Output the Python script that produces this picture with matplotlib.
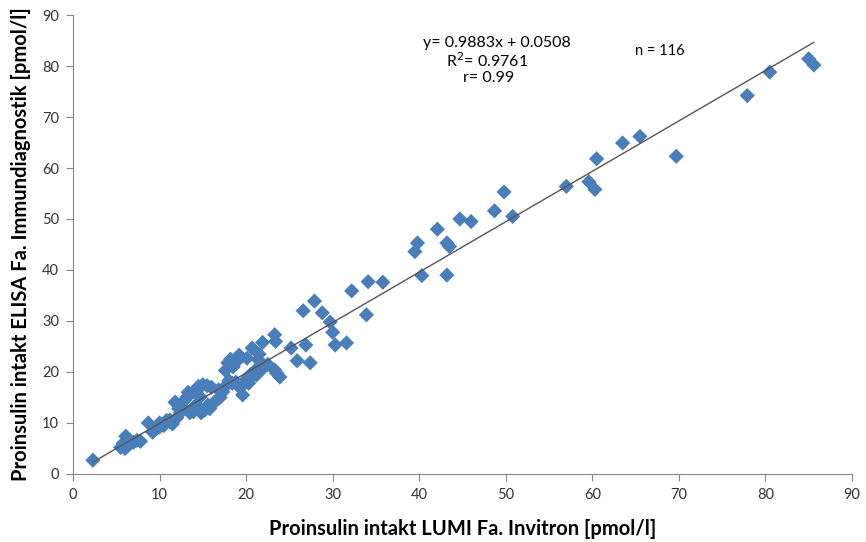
import numpy as np
import matplotlib.pyplot as plt

# LUMI (x) vs ELISA (y), pmol/l
lumi = [85.0, 85.6, 80.5, 77.9, 69.7, 65.5, 63.5, 60.5, 59.6, 60.3,
        57.0, 49.8, 48.7, 50.8, 44.7, 46.0, 42.1, 39.8, 39.5, 43.2,
        43.5, 40.3, 43.2, 35.8, 34.1, 32.2, 27.9, 26.6, 28.8, 33.9,
        29.7, 30.0, 30.3, 31.6, 26.9, 25.2, 25.9, 27.4, 23.3, 23.4,
        21.9, 20.7, 23.3, 23.9, 23.5, 19.2, 20.1, 21.4, 17.9, 18.5,
        20.4, 21.2, 19.3, 19.6, 18.4, 17.3, 16.6, 15.0, 13.9, 14.7,
        13.2, 11.8, 12.7, 14.3, 15.6, 15.2, 13.9, 12.4, 11.2, 10.0,
        2.3, 8.7, 9.2, 10.0, 11.2, 11.9, 13.5, 5.5, 5.8, 6.1,
        6.3, 6.6, 7.0, 7.4, 7.8, 6.0, 16.0, 16.8, 17.5, 18.0,
        18.8, 19.8, 20.5, 21.0, 22.0, 20.3, 17.0, 16.3, 15.8, 14.8,
        14.0, 12.9, 13.3, 14.5, 15.5, 12.2, 11.5, 10.5, 9.6, 10.8,
        22.5, 19.0, 18.2, 21.5, 17.6, 12.0]
elisa = [81.4, 80.2, 78.8, 74.2, 62.3, 66.2, 64.9, 61.8, 57.3, 55.8,
         56.4, 55.3, 51.6, 50.5, 50.0, 49.5, 48.0, 45.3, 43.6, 45.3,
         44.6, 38.9, 39.0, 37.6, 37.7, 35.9, 33.9, 32.0, 31.6, 31.2,
         29.8, 27.8, 25.3, 25.7, 25.3, 24.7, 22.2, 21.8, 27.3, 26.0,
         25.8, 24.7, 20.4, 19.0, 19.8, 23.3, 22.7, 22.4, 21.8, 21.0,
         18.8, 19.4, 16.9, 15.5, 17.8, 16.1, 14.5, 17.5, 16.1, 15.1,
         15.1, 14.1, 13.1, 13.5, 13.5, 12.5, 12.2, 12.0, 10.6, 10.0,
         2.7, 10.0, 8.2, 9.2, 10.2, 13.9, 12.0, 5.2, 6.0, 7.4,
         5.5, 6.5, 6.2, 6.6, 6.4, 5.0, 17.0, 16.5, 17.0, 18.3,
         18.0, 18.2, 19.5, 20.2, 20.8, 17.8, 15.0, 14.0, 12.8, 12.0,
         13.2, 14.5, 16.0, 17.2, 17.3, 12.8, 9.8, 9.5, 8.8, 10.5,
         21.5, 22.2, 22.5, 23.5, 20.3, 11.0]

slope = 0.9883
icpt = 0.0508
eq_lines = ['y= 0.9883x + 0.0508', 'R$^2$= 0.9761', 'r= 0.99']
n_text = 'n = 116'

plt.rcParams['font.family'] = ['Lato', 'DejaVu Sans']

fig = plt.figure(figsize=(8.66, 5.42), dpi=100)
ax = fig.add_axes([0.0843, 0.1255, 0.8995, 0.8468])

ax.scatter(lumi, elisa, marker='D', s=60, color='#4a7ebb', edgecolors='none', zorder=2)

xl = np.array([min(lumi), max(lumi)])
ax.plot(xl, slope * xl + icpt, color='#555555', lw=1.0, zorder=3)

ax.set_xlim(0, 90)
ax.set_ylim(0, 90)
ax.set_xticks(range(0, 91, 10))
ax.set_yticks(range(0, 91, 10))
for s in ['top', 'right']:
    ax.spines[s].set_visible(False)
for s in ['left', 'bottom']:
    ax.spines[s].set_color('#868686')
ax.tick_params(direction='out', length=5, color='#868686', labelsize=10.5, labelcolor='#333333', pad=5)

ax.set_xlabel('Proinsulin intakt LUMI Fa. Invitron [pmol/l]', fontsize=14.5, fontweight='bold', labelpad=12)
ax.set_ylabel('Proinsulin intakt ELISA Fa. Immundiagnostik [pmol/l]', fontsize=14.5, fontweight='bold', labelpad=8)

ax.text(49.0, 84.6, eq_lines[0], ha='center', va='center', fontsize=11.5)
ax.text(47.8, 81.0, eq_lines[1], ha='center', va='center', fontsize=11.5)
ax.text(48.0, 77.6, eq_lines[2], ha='center', va='center', fontsize=11.5)
ax.text(67.8, 83.0, n_text, ha='center', va='center', fontsize=10.5)

fig.savefig('out.png', dpi=100)
